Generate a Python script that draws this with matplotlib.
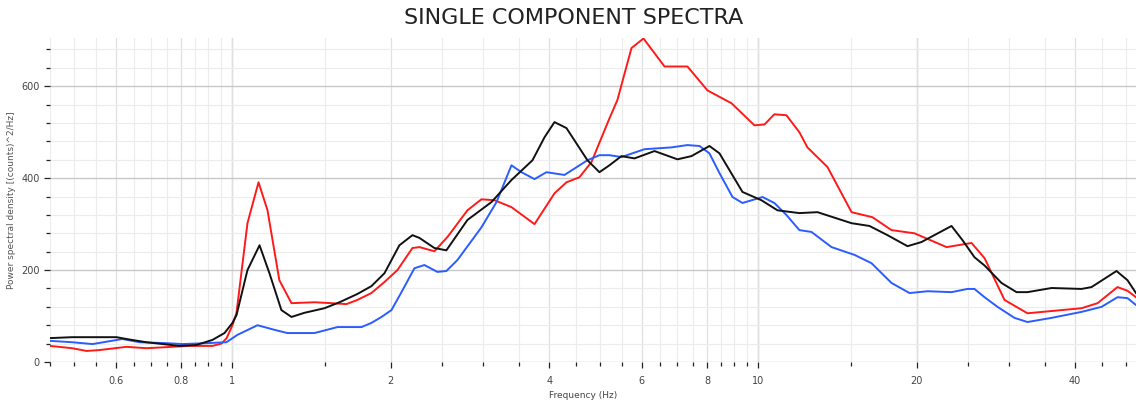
import numpy as np
import matplotlib
matplotlib.use('Agg')
import matplotlib.pyplot as plt
from matplotlib.ticker import FixedLocator, FixedFormatter, NullFormatter

# --- data (frequency in Hz, PSD in counts^2/Hz) ---
red_f = [0.45, 0.496, 0.528, 0.559, 0.629, 0.686, 0.769, 0.829, 0.916, 0.953, 0.975,
         1.0, 1.018, 1.068, 1.121, 1.166, 1.228, 1.295, 1.432, 1.543, 1.647, 1.728,
         1.837, 1.945, 2.059, 2.199, 2.267, 2.421, 2.563, 2.797, 2.974, 3.149, 3.392,
         3.752, 4.095, 4.315, 4.567, 4.814, 5.208, 5.393, 5.735, 6.045, 6.628, 7.328,
         7.998, 8.887, 9.826, 10.27, 10.72, 11.30, 11.96, 12.39, 13.53, 15.03, 16.47,
         17.90, 19.80, 22.78, 25.41, 26.90, 29.36, 32.46, 41.12, 44.11, 48.14, 50.29, 52.2]
red_v = [35, 30, 24, 26, 33, 30, 33, 35, 35, 40, 52,
         80, 107, 302, 391, 330, 178, 128, 130, 128, 126, 135,
         150, 174, 200, 248, 250, 241, 272, 330, 354, 352, 337,
         300, 367, 391, 402, 435, 530, 570, 683, 704, 643, 643,
         591, 563, 515, 517, 539, 537, 500, 467, 424, 326, 315,
         287, 280, 250, 259, 226, 135, 106, 117, 128, 163, 155, 141]

black_f = [0.45, 0.496, 0.602, 0.629, 0.686, 0.793, 0.854, 0.916, 0.966, 1.0, 1.018,
           1.068, 1.126, 1.176, 1.239, 1.295, 1.370, 1.496, 1.598, 1.728, 1.837, 1.945,
           2.077, 2.199, 2.267, 2.421, 2.551, 2.797, 3.108, 3.392, 3.719, 3.920, 4.095,
           4.315, 4.730, 4.985, 5.208, 5.489, 5.811, 6.344, 7.015, 7.458, 8.068, 8.431,
           9.324, 10.13, 10.87, 11.96, 12.95, 15.03, 16.26, 17.59, 19.20, 20.41, 23.28,
           24.43, 25.74, 26.90, 28.97, 30.94, 32.46, 36.06, 41.12, 42.96, 47.93, 50.29, 52.2]
black_v = [52, 54, 54, 50, 43, 35, 37, 48, 63, 85, 102,
           200, 254, 193, 113, 98, 107, 117, 130, 148, 165, 193,
           254, 276, 270, 248, 243, 309, 348, 396, 439, 489, 522,
           509, 439, 413, 428, 448, 443, 459, 441, 448, 470, 454,
           370, 352, 330, 324, 326, 302, 296, 276, 252, 261, 296,
           265, 228, 210, 172, 152, 152, 161, 159, 163, 198, 178, 150]

blue_f = [0.45, 0.496, 0.542, 0.618, 0.666, 0.749, 0.803, 0.893, 0.974, 1.022, 1.116,
          1.202, 1.272, 1.432, 1.584, 1.759, 1.837, 1.920, 2.006, 2.096, 2.218, 2.317,
          2.453, 2.551, 2.678, 2.974, 3.177, 3.392, 3.543, 3.752, 3.954, 4.278, 4.730,
          4.985, 5.208, 5.489, 6.072, 6.833, 7.328, 7.725, 8.068, 8.431, 8.926, 9.324,
          10.18, 10.72, 11.30, 11.96, 12.61, 13.77, 15.23, 16.40, 17.90, 19.37, 20.96,
          23.28, 24.97, 25.74, 26.90, 28.47, 30.67, 32.46, 36.06, 41.12, 44.89, 48.14,
          50.29, 52.2]
blue_v = [46, 43, 39, 50, 43, 41, 39, 41, 43, 59, 80,
          70, 63, 63, 76, 76, 85, 98, 113, 152, 204, 211,
          196, 198, 222, 293, 348, 428, 413, 398, 413, 407, 439,
          450, 450, 446, 463, 467, 472, 470, 454, 411, 359, 346,
          359, 346, 320, 287, 283, 250, 233, 215, 172, 150, 154,
          152, 159, 159, 141, 120, 96, 87, 96, 109, 120, 141,
          139, 124]

x_labels = ['0.6', '0.8', '1', '2', '4', '6', '8', '10', '20', '40']
x_major = [0.6, 0.8, 1, 2, 4, 6, 8, 10, 20, 40]

fig = plt.figure(figsize=(11.36, 4.05), dpi=100)
ax = fig.add_axes([50 / 1136, 1 - 362 / 405, 1 - 50 / 1136, 324 / 405])

ax.set_xscale('log')
ax.set_xlim(0.45, 52.2)
ax.set_ylim(0, 705)

# tick positions: every 0.05 below 1, 0.5 in 1-10, 5 above 10
all_ticks = list(np.round(np.arange(0.45, 1.0, 0.05), 2)) + \
            list(np.arange(1.0, 10.0, 0.5)) + list(np.arange(10, 55, 5))
minor = [t for t in all_ticks if not any(abs(t - m) < 1e-6 for m in x_major)]
ax.xaxis.set_major_locator(FixedLocator(x_major))
ax.xaxis.set_major_formatter(FixedFormatter(x_labels))
ax.xaxis.set_minor_locator(FixedLocator(minor))
ax.xaxis.set_minor_formatter(NullFormatter())

ax.set_yticks([0, 200, 400, 600])
ax.set_yticks(np.arange(0, 705, 40), minor=True)

ax.grid(which='minor', color='#ececec', linewidth=0.8)
ax.grid(which='major', axis='x', color='#e0e0e0', linewidth=0.9)
ax.grid(which='major', axis='y', color='#c8c8c8', linewidth=1.0)
for v in [1, 10, 20]:
    ax.axvline(v, color='#d2d2d2', linewidth=1.0, zorder=0.5)
ax.set_axisbelow(True)

ax.tick_params(which='both', direction='out', color='#222222', width=0.9,
               labelsize=7, labelcolor='#444444')
ax.tick_params(which='major', length=4)
ax.tick_params(which='minor', length=3)
ax.tick_params(axis='x', pad=6)
for s in ax.spines.values():
    s.set_visible(False)

ax.plot(red_f, red_v, color='#ff1a1a', linewidth=1.4)
ax.plot(blue_f, blue_v, color='#2a5cff', linewidth=1.4)
ax.plot(black_f, black_v, color='#111111', linewidth=1.4)

ax.set_ylabel('Power spectral density [(counts)^2/Hz]', fontsize=6.5, color='#555555', labelpad=4)
ax.set_xlabel('Frequency (Hz)', fontsize=6.5, color='#444444', labelpad=2)
ax.xaxis.set_label_coords((583 - 50) / 1086, -0.09)
fig.text(0.505, 0.955, 'SINGLE COMPONENT SPECTRA', ha='center', va='center',
         fontsize=16, color='#222222')

fig.savefig('out.png', dpi=100)
